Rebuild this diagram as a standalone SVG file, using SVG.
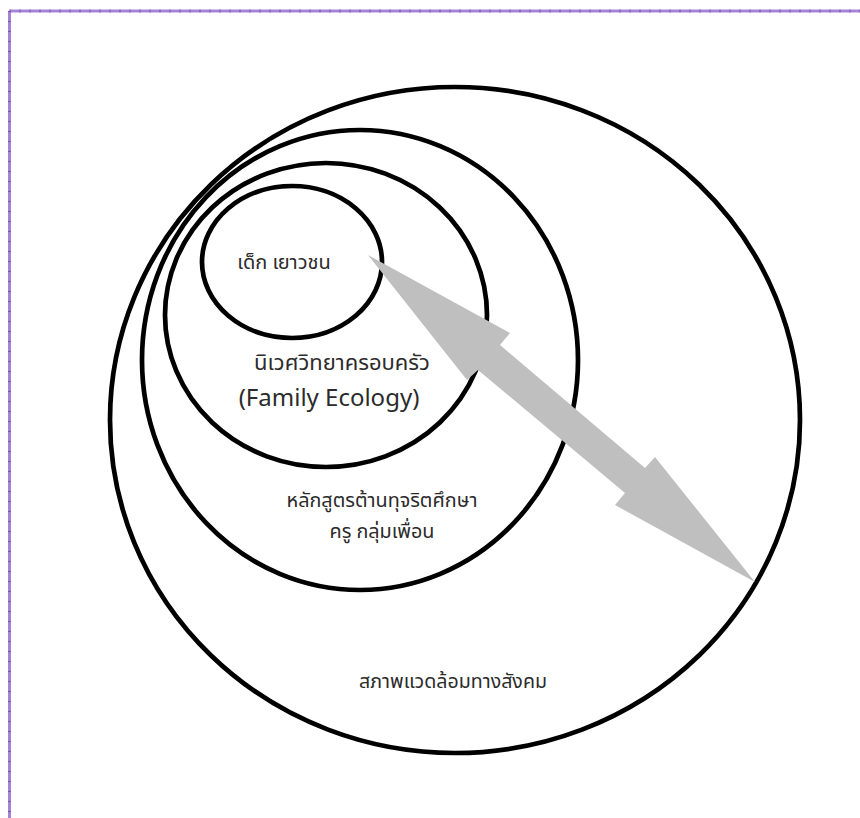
<svg xmlns="http://www.w3.org/2000/svg" width="860" height="818" viewBox="0 0 860 818">
  <style>
    .ring { fill: none; stroke: #000; stroke-width: 4.7; }
    .lbl { font-family: "Noto Sans", "Noto Sans Thai", "DejaVu Sans", sans-serif; fill: #2b2b2b; text-anchor: middle; }
    .frame { stroke: #a584d8; stroke-width: 3; fill: none; }
    .frame-dots { stroke: #7e52c0; stroke-width: 3; fill: none; stroke-dasharray: 1 9; }
    .arrow { fill: #bfbfbf; stroke: none; }
  </style>
  <rect width="860" height="818" fill="#fff"/>
  <g id="frame">
    <line class="frame" x1="9.5" y1="11" x2="860" y2="11"/>
    <line class="frame" x1="9.5" y1="11" x2="9.5" y2="818"/>
    <line class="frame-dots" x1="9.5" y1="11" x2="860" y2="11"/>
    <line class="frame-dots" x1="9.5" y1="11" x2="9.5" y2="818"/>
  </g>
  <g id="society">
    <ellipse class="ring" cx="455" cy="420" rx="345" ry="333"/>
    <text class="lbl" x="453" y="688" font-size="19.6">สภาพแวดล้อมทางสังคม</text>
  </g>
  <g id="school">
    <ellipse class="ring" cx="360" cy="360" rx="218" ry="230"/>
    <text class="lbl" x="382" y="507" font-size="19.8">หลักสูตรต้านทุจริตศึกษา</text>
    <text class="lbl" x="382" y="538" font-size="19.8">ครู กลุ่มเพื่อน</text>
  </g>
  <g id="family">
    <ellipse class="ring" cx="326" cy="315" rx="161" ry="152"/>
    <text class="lbl" x="342" y="370" font-size="22">นิเวศวิทยาครอบครัว</text>
    <text class="lbl" x="329" y="406" font-size="24">(Family Ecology)</text>
  </g>
  <g id="child">
    <ellipse class="ring" cx="292" cy="262" rx="90" ry="76"/>
    <text class="lbl" x="284" y="269" font-size="20">เด็ก เยาวชน</text>
  </g>
  <g id="connectors">
    <polygon class="arrow" points="368,255 510,333 500,345 645,468 655,457 755,582 615,505 625,493 478,370 467,380"/>
  </g>
</svg>
